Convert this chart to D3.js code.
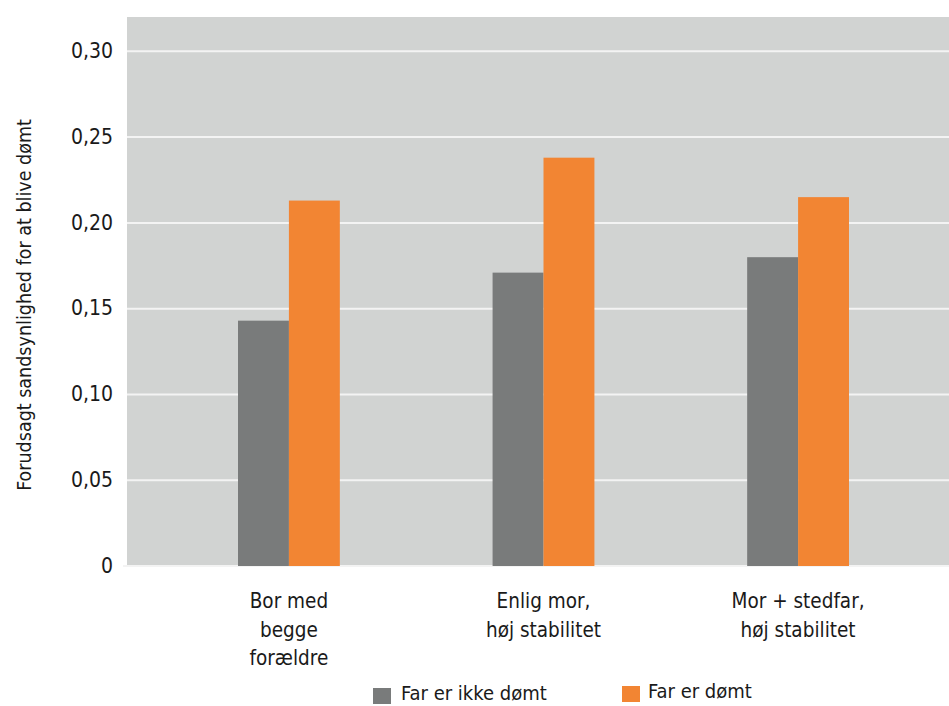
<!DOCTYPE html>
<html>
<head>
<meta charset="utf-8">
<script src="https://cdn.jsdelivr.net/npm/d3@7"></script>
<style>
  html, body { margin: 0; padding: 0; background: #ffffff; }
  svg { display: block; }
  text { font-family: "DejaVu Sans Condensed", "DejaVu Sans", sans-serif; font-stretch: condensed; fill: #1a1a1a; }
</style>
</head>
<body>
<svg id="chart" width="949" height="706"></svg>
<script>
// ---- data ----
const categories = [["Bor med", "begge", "forældre"], ["Enlig mor,", "høj stabilitet"], ["Mor + stedfar,", "høj stabilitet"]];
const seriesNames = ["Far er ikke dømt", "Far er dømt"];
const notConvicted = [0.143, 0.171, 0.180];
const convicted = [0.213, 0.238, 0.215];
const yTicks = [0, 0.05, 0.10, 0.15, 0.20, 0.25, 0.30];
const yTickLabels = ["0", "0,05", "0,10", "0,15", "0,20", "0,25", "0,30"];
const yTitle = "Forudsagt sandsynlighed for at blive dømt";
const colors = ["#797b7b", "#f28533"];

const svg = d3.select("#chart");
const plot = { left: 127, right: 949, top: 17, bottom: 566 };

const y = d3.scaleLinear().domain([0, 0.32]).range([plot.bottom, plot.top]);
const idx = categories.map((d, i) => i);
const x = d3.scaleBand().domain(idx).range([plot.left, 960]).paddingInner(0.6).paddingOuter(0.436);
const xs = d3.scaleBand().domain([0, 1]).range([0, x.bandwidth()]);

// background
svg.append("rect").attr("x", plot.left).attr("y", plot.top)
  .attr("width", plot.right - plot.left).attr("height", plot.bottom - plot.top)
  .attr("fill", "#d1d3d2");

// gridlines
svg.append("g").selectAll("line").data(yTicks).join("line")
  .attr("x1", (d, i) => i === 0 ? plot.left - 4 : plot.left)
  .attr("x2", plot.right)
  .attr("y1", d => y(d)).attr("y2", d => y(d))
  .attr("stroke", "#f3f3f3").attr("stroke-width", 2);

// y axis labels
const yAxis = d3.axisLeft(y).tickValues(yTicks).tickFormat((d, i) => yTickLabels[i]).tickSize(0).tickPadding(14);
const ga = svg.append("g").attr("transform", `translate(${plot.left},0)`).call(yAxis);
ga.select(".domain").remove();
ga.selectAll("text").attr("font-size", 21).attr("fill", "#1a1a1a")
  .style("font-family", '"DejaVu Sans Condensed", "DejaVu Sans", sans-serif').attr("dy", "0.3em");

// bars
const series = [notConvicted, convicted];
series.forEach((vals, s) => {
  svg.append("g").selectAll("rect").data(vals).join("rect")
    .attr("x", (d, i) => x(i) + xs(s))
    .attr("width", xs.bandwidth())
    .attr("y", d => y(d))
    .attr("height", d => y(0) - y(d))
    .attr("fill", colors[s]);
});

// category labels
categories.forEach((lines, i) => {
  const t = svg.append("text").attr("text-anchor", "middle").attr("font-size", 20.5)
    .attr("x", x(i) + x.bandwidth() / 2).attr("y", 608);
  lines.forEach((l, k) => {
    t.append("tspan").attr("x", x(i) + x.bandwidth() / 2).attr("dy", k === 0 ? 0 : 28.5).text(l);
  });
});

// y title
svg.append("text").attr("transform", `translate(31,${(117 + 493) / 2}) rotate(-90)`)
  .attr("text-anchor", "middle").attr("font-size", 19.5).text(yTitle);

// legend
const legendPos = [{ x: 373, y: 688, tx: 401, ty: 700 }, { x: 622, y: 686, tx: 648, ty: 698 }];
seriesNames.forEach((n, s) => {
  const p = legendPos[s];
  svg.append("rect").attr("x", p.x).attr("y", p.y).attr("width", 18).attr("height", 16).attr("fill", colors[s]);
  svg.append("text").attr("x", p.tx).attr("y", p.ty).attr("font-size", 20).text(n);
});
</script>
</body>
</html>
